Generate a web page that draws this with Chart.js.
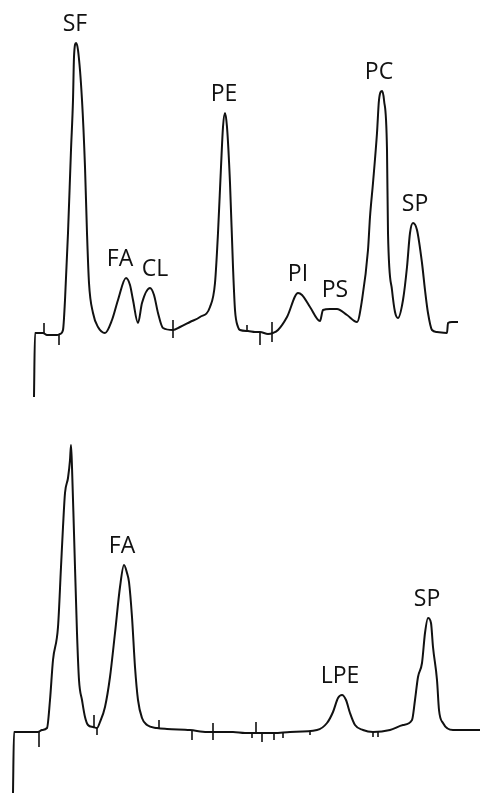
<!DOCTYPE html>
<html>
<head>
<meta charset="utf-8">
<script src="https://cdn.jsdelivr.net/npm/chart.js@4.4.1/dist/chart.umd.min.js"></script>
<style>
  html, body { margin: 0; padding: 0; background: #fff; }
  .trace { position: absolute; left: 0; width: 480px; height: 397px; }
  #top { top: 0; }
  #bottom { top: 397px; }
</style>
</head>
<body>
<div class="trace" id="top"><canvas id="topChart" width="480" height="397"></canvas></div>
<div class="trace" id="bottom"><canvas id="bottomChart" width="480" height="397"></canvas></div>
<script>
// Upper chromatogram: retention (arbitrary units) and detector signal above baseline
const topTime = [34, 35, 43, 47, 57, 60, 63, 65, 68, 71, 73, 74, 76, 78, 82, 85, 87, 89, 93, 98,
  105, 112, 118, 126, 130, 133, 138, 142, 150, 154, 158, 163, 173, 180, 190, 200, 210, 215, 218, 221,
  223, 225, 227, 230, 233, 235, 238, 240, 248, 255, 260, 268, 273, 278, 287, 298,
  302, 310, 320, 323, 330, 337, 347, 357, 362, 368, 370, 373, 377, 379, 382, 384, 387, 388, 392, 395, 398,
  403, 407, 410, 413, 417, 422, 425, 428, 432, 437, 447, 448, 452, 458];
const topSignal = [-64, 0, 0, -2, -2, -1, 3, 33, 100, 183, 233, 276, 290, 283, 233, 166, 100, 50, 20, 6,
  0, 13, 33, 55, 48, 33, 10, 30, 45, 38, 20, 5, 3, 6, 11, 16, 26, 50, 100, 166,
  206, 220, 206, 150, 66, 23, 6, 3, 2, 1, 1, -1, 0, 3, 16, 40,
  38, 26, 12, 23, 24, 24, 18, 11, 33, 83, 116, 150, 200, 233, 242, 233, 183, 100, 43, 21, 15,
  33, 66, 100, 110, 103, 70, 43, 20, 3, 1, 0, 10, 11, 11];
// event marks on the recorder trace: time, lower end, upper end
const topTickTime = [44, 59, 173, 247, 260, 272];
const topTickLow = [0, -12, -5, 2, -12, -9];
const topTickHigh = [10, -2, 13, 8, 1, 11];
const topNames = ['SF', 'FA', 'CL', 'PE', 'PI', 'PS', 'PC', 'SP'];
const topLabelTime = [75, 120, 155, 224, 298, 335, 379, 415];

// Lower chromatogram
const bottomTime = [13, 14, 38, 42, 47, 50, 53, 58, 61, 63, 65, 68, 70, 71, 72, 74, 77, 79, 82, 85, 88, 93,
  97, 100, 105, 110, 115, 120, 124, 127, 129, 132, 135, 138, 142, 147, 157, 167, 190, 207, 233, 245, 262,
  274, 290, 317, 327, 333, 338, 342, 346, 350, 355, 363, 373, 390, 403, 412, 415, 418, 422, 425, 428,
  431, 433, 437, 439, 443, 453, 480];
const bottomSignal = [-60, 1, 1, 3, 5, 33, 73, 106, 166, 206, 240, 255, 273, 288, 266, 200, 100, 53, 33, 16, 8, 6,
  5, 11, 26, 56, 100, 146, 168, 160, 151, 116, 66, 33, 15, 8, 5, 4, 3, 1, 1, 0, 0,
  0, 1, 3, 10, 21, 35, 38, 33, 20, 8, 3, 1, 3, 8, 13, 33, 56, 70, 100, 115,
  110, 86, 53, 23, 10, 3, 3];
const bottomTickTime = [39, 94, 97, 159, 192, 213, 252, 256, 262, 274, 283, 310, 373, 378];
const bottomTickLow = [-14, 6, -2, 5, -7, -7, -5, 0, -9, -7, -5, -2, -4, -4];
const bottomTickHigh = [1, 18, 5, 13, 3, 10, 0, 11, 0, 0, 0, 1, 1, 1];
const bottomNames = ['FA', 'LPE', 'SP'];
const bottomLabelTime = [122, 340, 427];

const ink = '#111111';

// Peak names drawn above the highest point near each label position
const peakLabels = {
  id: 'peakLabels',
  afterDatasetsDraw(chart, args, opts) {
    const c = chart.ctx;
    const xs = chart.scales.x;
    const ys = chart.scales.y;
    const pts = chart.data.datasets[0].data;
    c.save();
    c.fillStyle = ink;
    c.font = '23px "Open Sans", sans-serif';
    c.textAlign = 'center';
    c.textBaseline = 'middle';
    opts.names.forEach((name, i) => {
      const t = opts.times[i];
      let peak = -Infinity;
      pts.forEach(p => {
        if (Math.abs(p.x - t) <= 8 && p.y > peak) peak = p.y;
      });
      c.fillText(name, xs.getPixelForValue(t), ys.getPixelForValue(peak) - 19);
    });
    c.restore();
  }
};

function tickPoints(times, low, high) {
  const out = [];
  times.forEach((t, i) => {
    out.push({ x: t, y: low[i] }, { x: t, y: high[i] }, { x: t, y: null });
  });
  return out;
}

function makeTrace(id, times, signal, ticks, yMin, yMax, names, labelTimes) {
  return new Chart(document.getElementById(id), {
    type: 'scatter',
    data: {
      datasets: [{
        data: times.map((t, i) => ({ x: t, y: signal[i] })),
        showLine: true,
        borderColor: ink,
        borderWidth: 2,
        pointRadius: 0,
        cubicInterpolationMode: 'monotone',
        clip: 4
      }, {
        data: ticks,
        showLine: true,
        spanGaps: false,
        borderColor: ink,
        borderWidth: 1.6,
        pointRadius: 0,
        tension: 0,
        clip: 4
      }]
    },
    options: {
      responsive: false,
      animation: false,
      devicePixelRatio: 1,
      layout: { padding: 0 },
      scales: {
        x: { type: 'linear', min: 0, max: 480, display: false },
        y: { type: 'linear', min: yMin, max: yMax, display: false }
      },
      plugins: {
        legend: { display: false },
        tooltip: { enabled: false },
        peakLabels: { names: names, times: labelTimes }
      }
    },
    plugins: [peakLabels]
  });
}

makeTrace('topChart', topTime, topSignal, tickPoints(topTickTime, topTickLow, topTickHigh),
  -64, 333, topNames, topLabelTime);
makeTrace('bottomChart', bottomTime, bottomSignal, tickPoints(bottomTickTime, bottomTickLow, bottomTickHigh),
  -61, 336, bottomNames, bottomLabelTime);
</script>
</body>
</html>
